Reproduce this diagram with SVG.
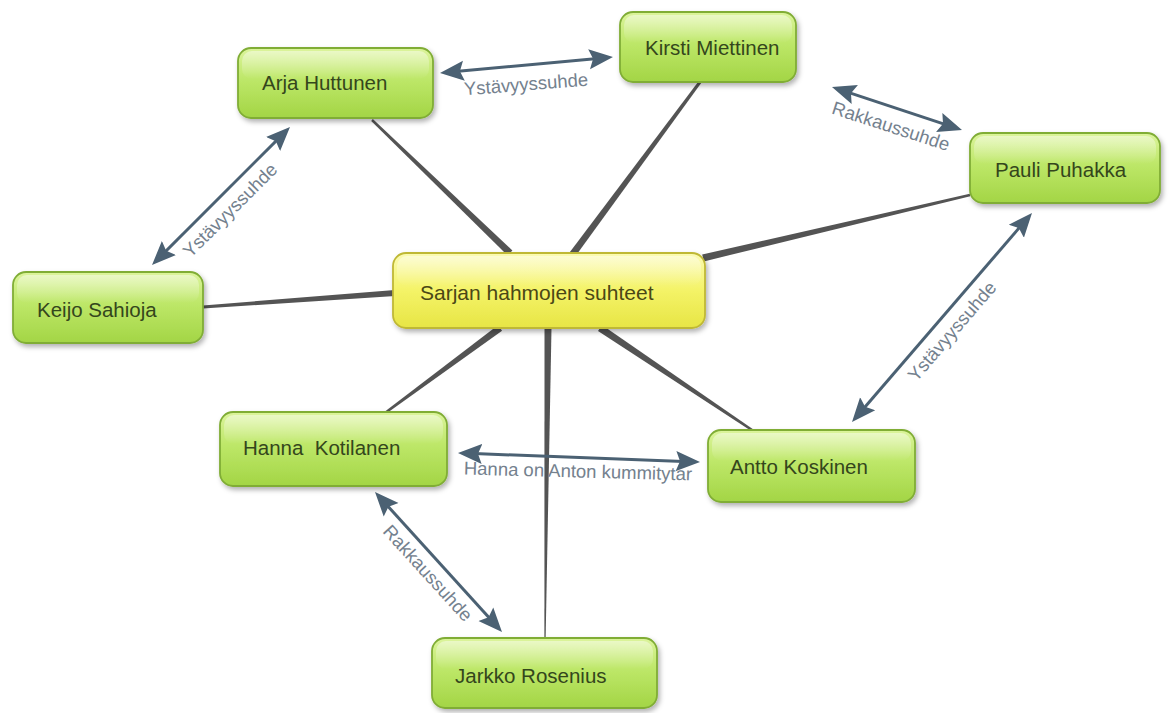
<svg xmlns="http://www.w3.org/2000/svg" width="1170" height="713" viewBox="0 0 1170 713">
<style>
.node rect.g{fill:url(#gGreen);stroke:#80ad36;stroke-width:1.8;filter:url(#sh)}
.node rect.y{fill:url(#gYellow);stroke:#bfb836;stroke-width:1.8;filter:url(#sh)}
.node rect.hl{fill:url(#gloss);stroke:none}
.node text{font-family:"Liberation Sans",Arial,sans-serif;font-size:20.5px;fill:#34461c}
.node.center text{fill:#4a4716;font-size:21px}
.spoke{fill:#545454}
.rel{stroke:#4b6173;stroke-width:3;fill:none;marker-start:url(#ah);marker-end:url(#ah)}
.lbl{font-family:"Liberation Sans",Arial,sans-serif;font-size:18.5px;fill:#74818e;text-anchor:middle;dominant-baseline:central}
</style>
<defs>
<linearGradient id="gGreen" x1="0" y1="0" x2="0" y2="1">
<stop offset="0" stop-color="#dcf49c"/>
<stop offset="0.45" stop-color="#bde768"/>
<stop offset="1" stop-color="#a3d545"/>
</linearGradient>
<linearGradient id="gYellow" x1="0" y1="0" x2="0" y2="1">
<stop offset="0" stop-color="#fbfbb4"/>
<stop offset="0.5" stop-color="#f4f367"/>
<stop offset="1" stop-color="#e7e545"/>
</linearGradient>
<linearGradient id="gloss" x1="0" y1="0" x2="0" y2="1">
<stop offset="0" stop-color="#ffffff" stop-opacity="0.45"/>
<stop offset="1" stop-color="#ffffff" stop-opacity="0"/>
</linearGradient>
<filter id="sh" x="-10%" y="-20%" width="125%" height="150%">
<feDropShadow dx="2" dy="3" stdDeviation="2.5" flood-color="#000" flood-opacity="0.3"/>
</filter>
<marker id="ah" markerUnits="userSpaceOnUse" viewBox="0 -11 25 22" markerWidth="25" markerHeight="22" refX="14" refY="0" orient="auto-start-reverse">
<path d="M0,-10 L24,0 L0,10 L4,0 z" fill="#4b6173"/>
</marker>
</defs>

<g id="connectors">
<polygon class="spoke" points="371.2,120.9 507.6,255.5 512.4,250.5 372.8,119.1"/>
<polygon class="spoke" points="698.8,81.1 569.2,252.9 574.8,257.1 701.2,82.9"/>
<polygon class="spoke" points="969.7,193.8 702.2,254.6 703.8,261.4 970.3,196.2"/>
<polygon class="spoke" points="203.1,308.5 395.2,296 394.8,290 202.9,305.5"/>
<polygon class="spoke" points="385.7,414 502.1,330.8 497.9,325.2 384.3,412"/>
<polygon class="spoke" points="752.7,429 602,325.1 598,330.9 751.3,431"/>
<polygon class="spoke" points="545.6,640 551.5,328 544.5,328 544.4,640"/>

<line class="rel" x1="449.96" y1="72.08" x2="603.04" y2="57.92"/>
<line class="rel" x1="841.49" y1="90.14" x2="952.51" y2="126.86"/>
<line class="rel" x1="858.53" y1="414.42" x2="1025.47" y2="220.58"/>
<line class="rel" x1="282.93" y1="134.07" x2="159.07" y2="257.93"/>
<line class="rel" x1="467.99" y1="453.37" x2="690.01" y2="461.63"/>
<line class="rel" x1="381.72" y1="499.41" x2="495.28" y2="624.59"/>

<text class="lbl" transform="translate(526,84) rotate(-4.5)">Ystävyyssuhde</text>
<text class="lbl" transform="translate(891,126) rotate(18)">Rakkaussuhde</text>
<text class="lbl" transform="translate(952,331) rotate(-49.3)">Ystävyyssuhde</text>
<text class="lbl" transform="translate(230,210) rotate(-45)">Ystävyyssuhde</text>
<text class="lbl" transform="translate(578,471) rotate(1.5)">Hanna on Anton kummitytar</text>
<text class="lbl" transform="translate(428,573) rotate(47.8)">Rakkaussuhde</text>
</g>

<g id="n-center" class="node center">
<rect class="y" x="393" y="253" width="312" height="75" rx="13"/>
<rect class="hl" x="397" y="256" width="304" height="30" rx="10"/>
<text x="420" y="300">Sarjan hahmojen suhteet</text>
</g>
<g id="n-arja" class="node">
<rect class="g" x="238" y="48" width="195" height="70" rx="13"/>
<rect class="hl" x="242" y="51" width="187" height="28" rx="10"/>
<text x="262" y="90">Arja Huttunen</text>
</g>
<g id="n-kirsti" class="node">
<rect class="g" x="620" y="12" width="176" height="70" rx="13"/>
<rect class="hl" x="624" y="15" width="168" height="28" rx="10"/>
<text x="645" y="55">Kirsti Miettinen</text>
</g>
<g id="n-pauli" class="node">
<rect class="g" x="970" y="133" width="190" height="70" rx="13"/>
<rect class="hl" x="974" y="136" width="182" height="28" rx="10"/>
<text x="995" y="177">Pauli Puhakka</text>
</g>
<g id="n-keijo" class="node">
<rect class="g" x="13" y="272" width="190" height="71" rx="13"/>
<rect class="hl" x="17" y="275" width="182" height="28" rx="10"/>
<text x="37" y="317">Keijo Sahioja</text>
</g>
<g id="n-hanna" class="node">
<rect class="g" x="220" y="412" width="227" height="74" rx="13"/>
<rect class="hl" x="224" y="415" width="219" height="29" rx="10"/>
<text x="243" y="455" xml:space="preserve">Hanna  Kotilanen</text>
</g>
<g id="n-antto" class="node">
<rect class="g" x="708" y="430" width="207" height="72" rx="13"/>
<rect class="hl" x="712" y="433" width="199" height="28" rx="10"/>
<text x="730" y="474">Antto Koskinen</text>
</g>
<g id="n-jarkko" class="node">
<rect class="g" x="432" y="638" width="225" height="70" rx="13"/>
<rect class="hl" x="436" y="641" width="217" height="28" rx="10"/>
<text x="455" y="683">Jarkko Rosenius</text>
</g>
</svg>
